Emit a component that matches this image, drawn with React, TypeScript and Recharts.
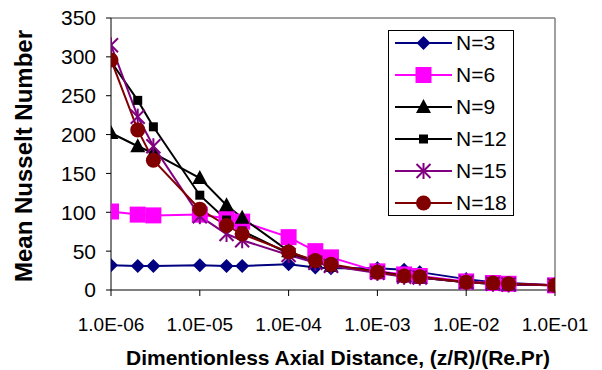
import { LineChart, Line, XAxis, YAxis, Legend, ReferenceLine } from 'recharts';

const FONT = '"Liberation Sans", Arial, sans-serif';

// x positions (z/R)/(Re.Pr)
const xValues = [1e-6, 2e-6, 3e-6, 1e-5, 2e-5, 3e-5, 1e-4, 2e-4, 3e-4, 1e-3, 2e-3, 3e-3, 1e-2, 2e-2, 3e-2, 1e-1];

// mean Nusselt number per N
const n3 = [32, 31, 31, 32, 31, 31, 33, 29, 28, 28, 26, 23, 14, 10, 9, 6];
const n6 = [101, 97, 96, 97, 92, 88, 68, 50, 42, 24, 20, 18, 11, 9, 8, 6];
const n9 = [202, 185, 176, 144, 109, 93, 50, 36, 31, 24, 18, 16, 10, 8, 7, 6];
const n12 = [294, 244, 210, 122, 90, 76, 47, 36, 31, 23, 18, 16, 10, 8, 7, 6];
const n15 = [315, 223, 185, 95, 72, 64, 45, 35, 31, 22, 17, 16, 10, 8, 7, 6];
const n18 = [296, 206, 167, 104, 83, 72, 49, 38, 33, 23, 18, 17, 10, 9, 8, 6];

const xTicks = [1e-6, 1e-5, 1e-4, 1e-3, 1e-2, 1e-1];
const yTicks = [0, 50, 100, 150, 200, 250, 300, 350];

type Shape = 'diamond' | 'square' | 'triangle' | 'smallSquare' | 'star' | 'circle';

const series: { key: string; name: string; color: string; shape: Shape }[] = [
    { key: 'n3', name: 'N=3', color: '#000080', shape: 'diamond' },
    { key: 'n6', name: 'N=6', color: '#FF00FF', shape: 'square' },
    { key: 'n9', name: 'N=9', color: '#000000', shape: 'triangle' },
    { key: 'n12', name: 'N=12', color: '#000000', shape: 'smallSquare' },
    { key: 'n15', name: 'N=15', color: '#800080', shape: 'star' },
    { key: 'n18', name: 'N=18', color: '#800000', shape: 'circle' },
];

const data = xValues.map((x, i) => ({
    x,
    n3: n3[i],
    n6: n6[i],
    n9: n9[i],
    n12: n12[i],
    n15: n15[i],
    n18: n18[i],
}));

const fmtExp = (v: number) => {
    const e = Math.round(Math.log10(v));
    return `1.0E${e < 0 ? '-' : '+'}${String(Math.abs(e)).padStart(2, '0')}`;
};

const drawShape = (shape: Shape, cx: number, cy: number, color: string) => {
    switch (shape) {
        case 'diamond':
            return (
                <polygon
                    points={`${cx},${cy - 7} ${cx + 7},${cy} ${cx},${cy + 7} ${cx - 7},${cy}`}
                    fill={color}
                />
            );
        case 'square':
            return <rect x={cx - 8} y={cy - 8} width={16} height={16} fill={color} />;
        case 'triangle':
            return (
                <polygon
                    points={`${cx},${cy - 8} ${cx + 7.5},${cy + 6} ${cx - 7.5},${cy + 6}`}
                    fill={color}
                />
            );
        case 'smallSquare':
            return <rect x={cx - 4.5} y={cy - 4.5} width={9} height={9} fill={color} />;
        case 'star':
            return (
                <g stroke={color} strokeWidth={2}>
                    <line x1={cx - 7} y1={cy - 7} x2={cx + 7} y2={cy + 7} />
                    <line x1={cx + 7} y1={cy - 7} x2={cx - 7} y2={cy + 7} />
                    <line x1={cx} y1={cy - 8} x2={cx} y2={cy + 8} />
                </g>
            );
        default:
            return <circle cx={cx} cy={cy} r={7.5} fill={color} />;
    }
};

const marker = (shape: Shape, color: string) => (p: any) => {
    const { cx, cy, index } = p;
    if (cx == null || cy == null) return <g key={`d-${index}`} />;
    return <g key={`d-${index}`}>{drawShape(shape, cx, cy, color)}</g>;
};

const LegendBox = () => (
    <div
        style={{
            border: '1px solid #000',
            background: '#fff',
            width: 124,
            fontFamily: FONT,
            color: '#000',
        }}
    >
        {series.map((s, i) => (
            <div
                key={s.key}
                style={{
                    display: 'flex',
                    alignItems: 'center',
                    height: 24,
                    marginTop: i ? 8 : 0,
                }}
            >
                <svg width={57} height={24} style={{ marginLeft: 6, display: 'block' }}>
                    <line x1={0} x2={57} y1={12} y2={12} stroke={s.color} strokeWidth={2} />
                    {drawShape(s.shape, 28.5, 12, s.color)}
                </svg>
                <span style={{ fontSize: 21, marginLeft: 4, lineHeight: '24px' }}>{s.name}</span>
            </div>
        ))}
    </div>
);

export default function App() {
    return (
        <div style={{ position: 'absolute', left: 0, top: 0, width: 602, height: 370, background: '#fff' }}>
            <LineChart
                width={602}
                height={370}
                data={data}
                margin={{ top: 18, right: 47, bottom: 0, left: 0 }}
                style={{ fontFamily: FONT }}
            >
                <XAxis
                    dataKey="x"
                    type="number"
                    scale="log"
                    domain={[1e-6, 1e-1]}
                    ticks={xTicks}
                    allowDataOverflow
                    tickFormatter={fmtExp}
                    height={80}
                    stroke="#000"
                    tickSize={6}
                    tickMargin={22}
                    tick={{ fill: '#000', fontSize: 19, fontFamily: FONT }}
                    label={() => (
                        <text
                            x={338}
                            y={365}
                            textAnchor="middle"
                            fontFamily={FONT}
                            fontWeight="bold"
                            fontSize={21}
                            fill="#000"
                        >
                            Dimentionless Axial Distance, (z/R)/(Re.Pr)
                        </text>
                    )}
                />
                <YAxis
                    type="number"
                    domain={[0, 350]}
                    ticks={yTicks}
                    width={111}
                    stroke="#000"
                    tickSize={5}
                    tickMargin={10}
                    tick={{ fill: '#000', fontSize: 21, fontFamily: FONT }}
                    label={() => (
                        <text
                            x={32}
                            y={156}
                            transform="rotate(-90 32 156)"
                            textAnchor="middle"
                            fontFamily={FONT}
                            fontWeight="bold"
                            fontSize={24}
                            fill="#000"
                        >
                            Mean Nusselt Number
                        </text>
                    )}
                />
                <ReferenceLine y={350} stroke="#808080" strokeWidth={1.5} />
                <ReferenceLine x={1e-1} stroke="#808080" strokeWidth={1.5} />
                <Legend
                    layout="vertical"
                    align="center"
                    verticalAlign="middle"
                    content={() => <LegendBox />}
                    wrapperStyle={{ left: 388, top: 30, width: 'auto', height: 'auto' }}
                />
                {series.map((s) => (
                    <Line
                        key={s.key}
                        dataKey={s.key}
                        name={s.name}
                        type="linear"
                        stroke={s.color}
                        strokeWidth={2}
                        dot={marker(s.shape, s.color)}
                        activeDot={false}
                        isAnimationActive={false}
                    />
                ))}
            </LineChart>
        </div>
    );
}
